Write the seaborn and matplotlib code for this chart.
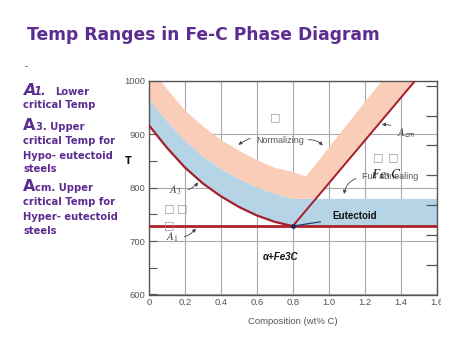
import matplotlib
matplotlib.use("Agg")
import matplotlib.pyplot as plt
import seaborn as sns
from matplotlib.transforms import Bbox, TransformedBbox

# ==========================================
# Data (wt% C, deg C)
# ==========================================
hypo_x = [0.0, 0.1, 0.2, 0.3, 0.4, 0.5, 0.6, 0.7, 0.8]
a3_T = [917, 875, 838, 808, 784, 764, 748, 736, 728]
blue_top_hypo = [966, 925, 889, 859, 836, 817, 801, 789, 780]
pink_top_hypo = [1030, 985, 945, 915, 890, 870, 852, 838, 830]

hyper_x = [0.87, 0.93, 1.29, 1.5]
pink_lo_hyper = [780, 780, 924, 1008]
pink_hi_hyper = [822, 847, 1000, 1090]

blue_end_x = [1.6]
blue_end_lo = [728]
blue_end_hi = [780]

acm_x = [0.8, 1.48]
acm_T = [728, 1000]
a1_x = [0.0, 1.6]
a1_T = [728, 728]
eut_x, eut_T = 0.8, 728

x_ticks = [0, 0.2, 0.4, 0.6, 0.8, 1.0, 1.2, 1.4, 1.6]
x_labels = ["0", "0.2", "0.4", "0.6", "0.8", "1.0", "1.2", "1.4", "1.6"]
y_ticks = [600, 700, 800, 900, 1000]
y_minor = [650, 750, 850, 950]
right_ticks = [656, 712, 767, 823, 879, 934, 990]

purple = "#5c2d91"
pink = "#facdb9"
blue = "#b5d5e7"
red = "#a51e2b"

sns.set_style("white")
plt.rcParams["mathtext.fontset"] = "stix"

fig = plt.figure(figsize=(4.74, 3.55), dpi=100)
ax = fig.add_axes([148.8 / 474, 1 - 294.5 / 355, 287.9 / 474, 213.7 / 355])

# --- bands ---
ax.fill_between(hypo_x + blue_end_x, a3_T + blue_end_lo, blue_top_hypo + blue_end_hi,
                color=blue, lw=0, zorder=1)
ax.fill_between(hypo_x + hyper_x, blue_top_hypo + pink_lo_hyper,
                pink_top_hypo + pink_hi_hyper, color=pink, lw=0, zorder=1)

# --- lines ---
sns.lineplot(x=hypo_x, y=a3_T, color=red, lw=1.6, ax=ax, zorder=3)
sns.lineplot(x=acm_x, y=acm_T, color=red, lw=1.4, ax=ax, zorder=3)
sns.lineplot(x=a1_x, y=a1_T, color="#b0202c", lw=2.0, ax=ax, zorder=3)
ax.plot([eut_x], [eut_T], "o", color="#1f2a55", ms=2.5, zorder=4)

ax.set_xlim(0, 1.6)
ax.set_ylim(600, 1000)
ax.set_xticks(x_ticks)
ax.set_xticklabels(x_labels)
ax.set_yticks(y_ticks)
ax.set_yticks(y_minor, minor=True)
ax.grid(True, color="#a9a9a9", lw=0.8, zorder=0)
ax.set_axisbelow(True)
ax.tick_params(which="both", direction="in", length=6, width=0.8, color="#555",
               labelsize=6.8, labelcolor="#555", pad=2.6)
for lbl in ax.get_xticklabels() + ax.get_yticklabels():
    lbl.set_family("Liberation Sans")
for s in ax.spines.values():
    s.set_color("#555")
    s.set_linewidth(1.0)

ax2 = ax.twinx()
ax2.set_ylim(600, 1000)
ax2.set_yticks(right_ticks)
ax2.set_yticklabels([])
ax2.tick_params(direction="in", length=8, width=0.9, color="#555")
for s in ax2.spines.values():
    s.set_visible(False)

ax.set_xlabel("Composition (wt% C)", fontsize=6.8, color="#555",
              family="Liberation Sans", labelpad=7)

# clip the last tick label like the cropped picture
clip = TransformedBbox(Bbox([[0, 0], [441 / 474, 1]]), fig.transFigure)
fig.canvas.draw()
last = ax.get_xticklabels()[-1]
last.set_clip_box(clip)
last.set_clip_on(True)

# --- labels in the diagram ---
arrow = dict(arrowstyle="-|>", color="#444", lw=0.6, mutation_scale=5)
ax.annotate(r"$A_3$", xy=(0.283, 814), xytext=(0.15, 796), fontsize=8, color="#444",
            ha="center", va="center",
            arrowprops=dict(arrow, connectionstyle="arc3,rad=0.35"))
ax.annotate(r"$A_1$", xy=(0.27, 728), xytext=(0.13, 708), fontsize=8, color="#444",
            ha="center", va="center",
            arrowprops=dict(arrow, connectionstyle="arc3,rad=0.35"))
ax.annotate(r"$A_{\mathsf{cm}}$", xy=(1.28, 918), xytext=(1.43, 902), fontsize=8,
            color="#444", ha="center", va="center",
            arrowprops=dict(arrow, connectionstyle="arc3,rad=0.2"))
ax.annotate("Normalizing", xy=(0.486, 877), xytext=(0.73, 889), fontsize=6.5,
            color="#555", family="Liberation Sans", ha="center", va="center",
            arrowprops=dict(arrow, connectionstyle="arc3,rad=0.3"))
ax.annotate("", xy=(0.977, 875), xytext=(0.87, 889),
            arrowprops=dict(arrow, connectionstyle="arc3,rad=-0.3"))
ax.annotate("Full annealing", xy=(1.084, 783), xytext=(1.34, 820), fontsize=6.5,
            color="#555", family="Liberation Sans", ha="center", va="center",
            arrowprops=dict(arrow, connectionstyle="arc3,rad=0.4",
                            relpos=(0, 0.5)))
ax.text(1.32, 824, r"$Fe_3C$", fontsize=9.5, color="#222", ha="center", va="center")
ax.annotate("Eutectoid", xy=(eut_x, eut_T), xytext=(1.018, 746), fontsize=7,
            weight="bold", family="Liberation Sans", color="#111", ha="left",
            va="center",
            arrowprops=dict(arrowstyle="-", color="#1f3f77", lw=0.9,
                            shrinkA=6, shrinkB=0))
ax.text(0.73, 670, "α+Fe3C", fontsize=7, weight="bold", style="italic",
        family="Liberation Sans", color="#111", ha="center", va="center")
for bx, by in [(0.705, 932), (0.113, 762), (0.187, 762), (0.113, 729),
               (1.277, 856), (1.36, 856)]:
    ax.text(bx, by, "□", fontsize=8, color="#999", ha="center", va="center")

fig.text(128 / 474, 1 - 161 / 355, "T", fontsize=7, weight="bold", ha="center",
         va="center", color="#111")

# --- slide text ---
fig.text(27 / 474, 1 - 35 / 355, "Temp Ranges in Fe-C Phase Diagram", fontsize=12.3,
         weight="bold", color=purple, va="center")
fig.text(25 / 474, 1 - 67 / 355, "-", fontsize=6, color="#333", va="center")


def line(x, y, s, size=7.2, **kw):
    fig.text(x / 474, 1 - y / 355, s, fontsize=size, weight="bold", color=purple,
             va="baseline", **kw)


line(23, 95, "A", size=11.5, style="italic")
line(34, 95, "1.", size=8.5, style="italic")
line(55, 95, "Lower")
line(23, 108, "critical Temp")
line(23, 130, "A", size=11.5)
line(36, 130, "3. Upper")
line(23, 144, "critical Temp for")
line(23, 159, "Hypo- eutectoid")
line(23, 172, "steels")
line(23, 191, "A", size=11.5)
line(35, 191, "cm. Upper")
line(23, 205, "critical Temp for")
line(23, 220, "Hyper- eutectoid")
line(23, 234, "steels")

plt.savefig("out.png", dpi=100)
